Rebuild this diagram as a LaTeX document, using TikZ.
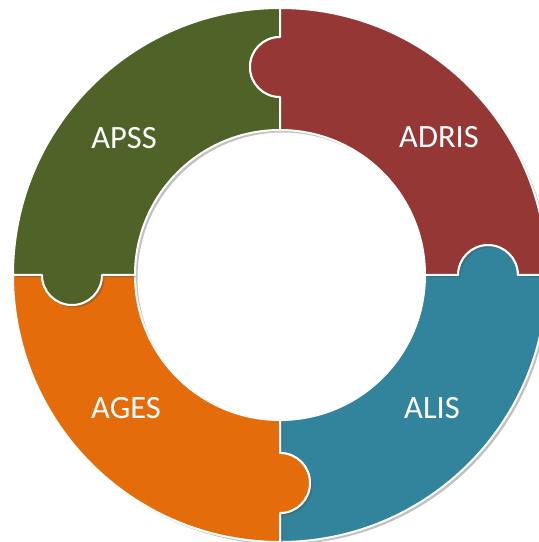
\documentclass[tikz,border=0pt]{standalone}
\usepackage{fontspec}
\setmainfont{Carlito}
\usetikzlibrary{shadows}
\definecolor{cgreen}{HTML}{4F6228}
\definecolor{cred}{HTML}{953735}
\definecolor{cteal}{HTML}{31849B}
\definecolor{corange}{HTML}{E46C0A}
\tikzset{
  piece/.style={fill=#1, draw=white, line width=2pt, line join=round,
    drop shadow={shadow xshift=2.5pt, shadow yshift=-2.5pt, opacity=0.35, fill=black!70}},
  lbl/.style={text=white, inner sep=0pt, font=\fontsize{32.5}{38}\selectfont}
}
\newcommand{\puzzlepiece}[2]{%
  \path[piece=#2]
    (#1:145pt) -- (#1:178pt)
    arc[start angle=#1+180, end angle=#1, radius=30pt]
    -- (#1:267pt)
    arc[start angle=#1, end angle=#1+90, radius=267pt]
    -- (#1+90:238pt)
    arc[start angle=#1+90, end angle=#1+270, radius=30pt]
    -- (#1+90:145pt)
    arc[start angle=#1+90, end angle=#1, radius=145pt]
    -- cycle;}
\begin{document}
\begin{tikzpicture}
\useasboundingbox (0pt,0pt) rectangle (539pt,542pt);
\clip (0pt,0pt) rectangle (539pt,542pt);
\begin{scope}[shift={(280pt,267pt)}]
  \puzzlepiece{-90}{cteal}
  \puzzlepiece{180}{corange}
  \puzzlepiece{90}{cgreen}
  \puzzlepiece{0}{cred}
\end{scope}
\node[lbl] (apss) at (124pt,404pt) {APSS};
\node[lbl] (adris) at (439pt,405pt) {ADRIS};
\node[lbl] (ages) at (126pt,134pt) {AGES};
\node[lbl] (alis) at (432pt,134pt) {ALIS};
\end{tikzpicture}
\end{document}
